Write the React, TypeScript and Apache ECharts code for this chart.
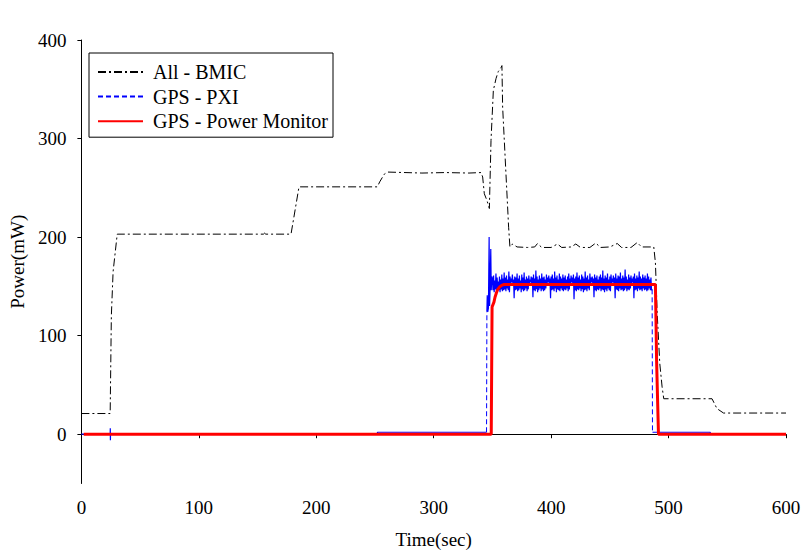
import React, { useEffect, useRef } from "react";
import * as echarts from "echarts";

// ---- Data (time in sec, power in mW) ----
const xTickValues = [0, 100, 200, 300, 400, 500, 600];
const yTickValues = [0, 100, 200, 300, 400];

const bmicData: [number, number][] = [
  [0, 21], [24.5, 21], [25.5, 120], [27, 165], [30.5, 203], [155, 203], [156, 204], [157, 203],
  [178.5, 203], [185.3, 251], [252, 251], [254, 256], [256, 260], [258, 264], [261, 266],
  [290, 265], [310, 265.5], [330, 265], [340.3, 265.5], [341.7, 261], [343.1, 244], [345.4, 237],
  [347.4, 229], [348.8, 298], [350.8, 349], [353.1, 361], [355.0, 368], [357.3, 372], [358.1, 374],
  [358.7, 332], [361.5, 265], [363.8, 210], [364.9, 190], [367.2, 193], [371, 190], [380, 189.5],
  [386, 190], [388.4, 193.5], [392, 189.5], [400, 189.5], [405.4, 193], [409, 189.5], [417, 190],
  [421, 193], [425, 189.5], [433, 189.5], [438, 194], [442, 189.5], [450, 190], [456.3, 193.5],
  [460, 189.5], [468, 189.5], [473.3, 194.5], [477, 190], [487.4, 190], [488.8, 174], [490.3, 123],
  [492.5, 72], [494.5, 48], [495.9, 36], [537, 36], [541.2, 26], [546.8, 21.5], [600, 21.5],
];

// PXI trace before the dense band
const pxiPre: [number, number | string][] = [
  [0, 0], [24.5, 0], [24.6, 6], [24.7, -6], [24.8, 0], [252, 0], [252.1, 2], [345, 2], [345.1, "-"],
  [345.3, 125], [345.6, 141], [346, 124], [346.6, 128], [347.2, 200], [347.6, 130], [348, 147],
  [348.6, 188], [349, 146], [349.5, 160],
];
// dense PXI band, sampled every 0.5 s from 350 s
const pxiBandStart = 350;
const pxiBandStep = 0.5;
const pxiBandValues = [
  158, 146, 161, 144, 156, 147, 163, 145, 159, 148, 155, 146, 160, 144, 157, 147, 162, 145, 158, 146,
  164, 147, 159, 145, 161, 148, 157, 146, 165, 144, 160, 153, 158, 154, 162, 153, 157, 138, 160, 146,
  159, 147, 163, 145, 158, 146, 161, 148, 156, 144, 162, 147, 159, 145, 164, 146, 157, 148, 160, 145,
  158, 147, 161, 153, 157, 154, 160, 153, 159, 139, 162, 146, 158, 145, 166, 147, 160, 144, 157, 146,
  161, 148, 158, 145, 163, 147, 159, 145, 160, 146, 157, 148, 162, 153, 159, 154, 161, 153, 158, 138,
  160, 146, 162, 147, 158, 145, 165, 148, 159, 144, 161, 147, 157, 146, 163, 145, 160, 148, 158, 146,
  162, 145, 159, 147, 161, 146, 157, 148, 160, 145, 163, 147, 158, 153, 161, 154, 159, 153, 162, 137,
  158, 146, 160, 145, 164, 147, 159, 146, 161, 148, 157, 145, 162, 147, 160, 144, 158, 146, 165, 147,
  159, 145, 161, 148, 157, 146, 163, 153, 159, 154, 160, 153, 158, 139, 162, 146, 159, 145, 161, 147,
  157, 146, 160, 148, 162, 145, 159, 147, 166, 146, 158, 144, 161, 147, 159, 145, 163, 148, 157, 146,
  160, 145, 162, 153, 158, 154, 161, 153, 159, 138, 163, 147, 158, 146, 161, 145, 160, 148, 164, 146,
  158, 147, 161, 145, 159, 146, 167, 148, 160, 145, 157, 147, 162, 146, 159, 148, 161, 153, 158, 154,
  160, 138, 163, 146, 158, 147, 161, 145, 159, 148, 165, 146, 160, 147, 158, 145, 162, 148, 159, 146,
  161, 147, 158, 145, 163, 146, 160, 148, 157, 146, 159, 146, 147,
];
// PXI trace after the band
const pxiPost: [number, number | string][] = [
  [486.1, "-"], [486.3, 2], [535.5, 2], [535.6, 0], [600, 0],
];
// long PXI jumps (drawn dashed)
const pxiJumps: [number, number | string][] = [
  [345, 2], [345.3, 125], [345.4, "-"], [486, 147], [486.3, 2],
];

const monitorData: [number, number][] = [
  [2, 0], [349, 0], [349.7, 129], [351.3, 134], [352.2, 139], [353.3, 143], [354.5, 147],
  [356.2, 149.5], [357.9, 151], [360, 152], [488.8, 152], [489.3, 114], [489.8, 75], [490.6, 37],
  [491.4, 0], [600, 0],
];

const FONT = "Liberation Serif";

export default function App() {
  const ref = useRef<HTMLDivElement>(null);
  useEffect(() => {
    if (!ref.current) return;
    const chart = echarts.init(ref.current, undefined, { renderer: "svg" });
    const band = pxiBandValues.map((v, i) => [pxiBandStart + i * pxiBandStep, v]);
    const pxiTrace = [...pxiPre, ...band, ...pxiPost];
    chart.setOption({
      animation: false,
      backgroundColor: "#fff",
      textStyle: { fontFamily: FONT },
      grid: { left: 79, top: 40, width: 707, height: 443.5, containLabel: false },
      legend: {
        orient: "vertical",
        left: 89,
        top: 53,
        padding: [9, 5, 6, 8],
        itemGap: 4.6,
        itemWidth: 45,
        itemHeight: 14,
        borderColor: "#000",
        borderWidth: 1,
        backgroundColor: "#fff",
        itemStyle: { opacity: 0 },
        textStyle: { fontFamily: FONT, fontSize: 20, color: "#000", padding: [0, 0, 0, 5] },
        data: [
          { name: "All - BMIC" },
          { name: "GPS - PXI", lineStyle: { type: [5, 3] } },
          { name: "GPS - Power Monitor" },
        ],
      },
      xAxis: {
        type: "value",
        min: 0,
        max: 600,
        interval: 100,
        name: "Time(sec)",
        nameLocation: "middle",
        nameGap: 46,
        nameTextStyle: { fontFamily: FONT, fontSize: 19, color: "#000" },
        axisLine: { lineStyle: { color: "#000", width: 1 } },
        axisTick: { show: true, length: 4, lineStyle: { color: "#000" }, customValues: xTickValues },
        axisLabel: { fontFamily: FONT, fontSize: 19, color: "#000", margin: 14, customValues: xTickValues },
        splitLine: { show: false },
      },
      yAxis: {
        type: "value",
        min: -50,
        max: 400,
        name: "Power(mW)",
        nameLocation: "middle",
        nameGap: 52,
        nameRotate: 90,
        nameTextStyle: { fontFamily: FONT, fontSize: 19, color: "#000" },
        axisLine: { show: true, lineStyle: { color: "#000", width: 1 } },
        axisTick: { show: true, length: 4, lineStyle: { color: "#000" }, customValues: yTickValues },
        axisLabel: { fontFamily: FONT, fontSize: 19, color: "#000", margin: 15, customValues: yTickValues },
        splitLine: { show: false },
      },
      series: [
        {
          name: "All - BMIC",
          type: "line",
          data: bmicData,
          symbol: "none",
          lineStyle: { color: "#000", width: 1, type: [8, 3, 2, 3] },
          itemStyle: { color: "#000" },
        },
        {
          name: "PXI trace",
          type: "line",
          data: pxiTrace,
          symbol: "none",
          connectNulls: false,
          lineStyle: { color: "#0000ff", width: 1.2 },
          itemStyle: { color: "#0000ff" },
        },
        {
          name: "GPS - PXI",
          type: "line",
          data: pxiJumps,
          symbol: "none",
          connectNulls: false,
          lineStyle: { color: "#0000ff", width: 1, type: [5, 3] },
          itemStyle: { color: "#0000ff" },
        },
        {
          name: "GPS - Power Monitor",
          type: "line",
          data: monitorData,
          symbol: "none",
          lineStyle: { color: "#ff0000", width: 3 },
          itemStyle: { color: "#ff0000" },
        },
      ],
    });
    return () => chart.dispose();
  }, []);
  return (
    <div
      ref={ref}
      style={{ position: "fixed", left: 0, top: 0, width: 807, height: 554, background: "#fff" }}
    />
  );
}
